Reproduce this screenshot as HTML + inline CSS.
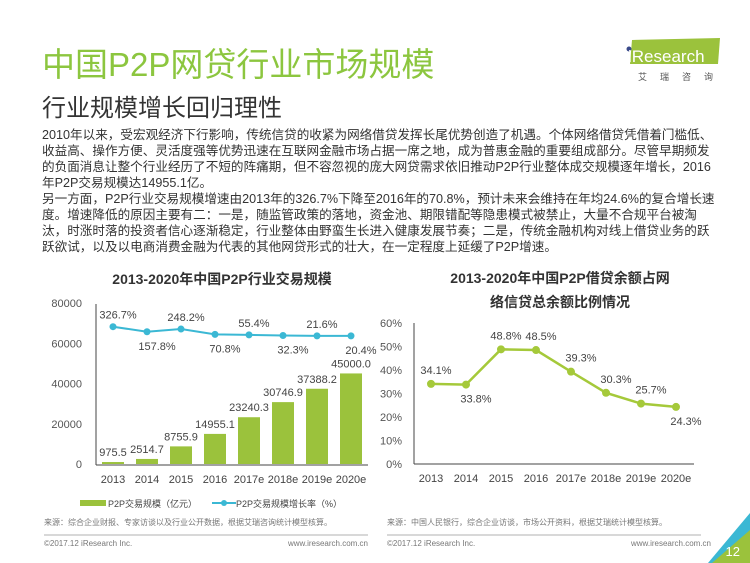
<!DOCTYPE html>
<html><head><meta charset="utf-8">
<style>
body{margin:0;width:750px;height:563px;background:#fff;overflow:hidden;position:relative;font-family:"Liberation Sans","Noto Sans CJK SC",sans-serif;}
.abs{position:absolute;}
#title{left:42px;top:38px;font-size:33px;color:#8cc63f;white-space:nowrap;}
#sub{left:42px;top:88px;font-size:24px;color:#333;white-space:nowrap;}
#para{left:42px;top:127px;width:676px;font-size:12.6px;line-height:16px;color:#333;}
svg text{font-family:"Liberation Sans","Noto Sans CJK SC",sans-serif;}
</style></head><body>
<div class="abs" id="title">中国P2P网贷行业市场规模</div>
<div class="abs" id="sub">行业规模增长回归理性</div>
<div class="abs" style="left:618px;top:34px;width:112px;height:50px;">
<svg width="112" height="50"><polygon points="14,6 102,4 100,30 12,30" fill="#9bc23c"/><circle cx="11" cy="15" r="2.5" fill="#3a4a8a"/><text x="10" y="28" font-size="17" fill="#fff">iResearch</text><text x="20" y="46" font-size="9" fill="#555" letter-spacing="13">艾瑞咨询</text></svg></div>
<div class="abs" id="para">2010年以来，受宏观经济下行影响，传统信贷的收紧为网络借贷发挥长尾优势创造了机遇。个体网络借贷凭借着门槛低、收益高、操作方便、灵活度强等优势迅速在互联网金融市场占据一席之地，成为普惠金融的重要组成部分。尽管早期频发的负面消息让整个行业经历了不短的阵痛期，但不容忽视的庞大网贷需求依旧推动P2P行业整体成交规模逐年增长，2016年P2P交易规模达14955.1亿。<br>另一方面，P2P行业交易规模增速由2013年的326.7%下降至2016年的70.8%，预计未来会维持在年均24.6%的复合增长速度。增速降低的原因主要有二：一是，随监管政策的落地，资金池、期限错配等隐患模式被禁止，大量不合规平台被淘汰，时涨时落的投资者信心逐渐稳定，行业整体由野蛮生长进入健康发展节奏；二是，传统金融机构对线上借贷业务的跃跃欲试，以及以电商消费金融为代表的其他网贷形式的壮大，在一定程度上延缓了P2P增速。</div>
<svg id="charts" class="abs" style="left:0;top:0" width="750" height="563"></svg>
<script>
const years=["2013","2014","2015","2016","2017e","2018e","2019e","2020e"];
const volume=[975.5,2514.7,8755.9,14955.1,23240.3,30746.9,37388.2,45000.0];
const growth=[326.7,157.8,248.2,70.8,55.4,32.3,21.6,20.4];
const share=[34.1,33.8,48.8,48.5,39.3,30.3,25.7,24.3];
const leftTicks=[0,20000,40000,60000,80000];
const rightTicks=[0,10,20,30,40,50,60];
const NS="http://www.w3.org/2000/svg";
const svg=document.getElementById('charts');
function mk(t,a,txt){const e=document.createElementNS(NS,t);for(const k in a)e.setAttribute(k,a[k]);if(txt!==undefined)e.textContent=txt;svg.appendChild(e);return e;}
const lx=i=>113+i*34.0, ly=v=>464-v*(161/80000), gy=r=>336.5-r*0.03;
let e;
e=mk('text',{x:222,y:284,'font-size':14,'font-weight':'bold','text-anchor':'middle',fill:'#333'},'2013-2020年中国P2P行业交易规模');


e=mk('line',{x1:96,y1:304,x2:96,y2:465,stroke:'#444'});


e=mk('line',{x1:96,y1:465,x2:368,y2:465,stroke:'#444'});


leftTicks.forEach(t=>{e=mk('text',{x:82,y:ly(t)+4,'font-size':11,'text-anchor':'end',fill:'#555'},String(t));

});
years.forEach((y,i)=>{
e=mk('text',{x:lx(i),y:483,'font-size':11,'text-anchor':'middle',fill:'#444'},y);


e=mk('rect',{x:lx(i)-11,y:ly(volume[i]),width:22,height:464-ly(volume[i]),fill:'#9bc23c'});


e=mk('text',{x:lx(i),y:ly(volume[i])-6,'font-size':11,'text-anchor':'middle',fill:'#444'},volume[i].toFixed(1));


});
e=mk('polyline',{points:growth.map((g,i)=>lx(i)+','+gy(g)).join(' '),fill:'none',stroke:'#3bb8d4','stroke-width':2});


growth.forEach((g,i)=>{
e=mk('circle',{cx:lx(i),cy:gy(g),r:3.5,fill:'#3bb8d4'});


const up=i%2===0;
e=mk('text',{x:lx(i)+(up?5:10),y:up?gy(g)-8:gy(g)+18,'font-size':11,'text-anchor':'middle',fill:'#444'},g.toFixed(1)+'%');


});
e=mk('rect',{x:80,y:500,width:26,height:6,fill:'#9bc23c'});


e=mk('text',{x:108,y:507,'font-size':9,fill:'#444'},'P2P交易规模（亿元）');


e=mk('line',{x1:212,y1:503,x2:236,y2:503,stroke:'#3bb8d4','stroke-width':2});


mk('circle',{cx:224,cy:503,r:3,fill:'#3bb8d4'});
e=mk('text',{x:236,y:507,'font-size':9,fill:'#444'},'P2P交易规模增长率（%）');


const rx=i=>431+i*35.0, ry=v=>464-v*(141/60);
e=mk('text',{x:560,y:283,'font-size':14,'font-weight':'bold','text-anchor':'middle',fill:'#333'},'2013-2020年中国P2P借贷余额占网');


mk('text',{x:560,y:307,'font-size':14,'font-weight':'bold','text-anchor':'middle',fill:'#333'},'络信贷总余额比例情况');
e=mk('line',{x1:414,y1:323,x2:414,y2:464,stroke:'#444'});


e=mk('line',{x1:414,y1:464,x2:694,y2:464,stroke:'#444'});


rightTicks.forEach(t=>{e=mk('text',{x:402,y:ry(t)+4,'font-size':11,'text-anchor':'end',fill:'#555'},t+'%');

});
years.forEach((y,i)=>{e=mk('text',{x:rx(i),y:482,'font-size':11,'text-anchor':'middle',fill:'#444'},y);

});
e=mk('polyline',{points:share.map((s,i)=>rx(i)+','+ry(s)).join(' '),fill:'none',stroke:'#a5c93a','stroke-width':2.5});


const below=[false,true,false,false,false,false,false,true];
share.forEach((s,i)=>{
e=mk('circle',{cx:rx(i),cy:ry(s),r:4,fill:'#a5c93a'});


e=mk('text',{x:rx(i)+(below[i]?10:i<4?5:10),y:below[i]?ry(s)+18:ry(s)-10,'font-size':11,'text-anchor':'middle',fill:'#444'},s.toFixed(1)+'%');


});
e=mk('text',{x:44,y:525,'font-size':8,fill:'#777'},'来源：综合企业财报、专家访谈以及行业公开数据，根据艾瑞咨询统计模型核算。');


e=mk('text',{x:387,y:525,'font-size':8,fill:'#777'},'来源：中国人民银行，综合企业访谈，市场公开资料，根据艾瑞统计模型核算。');


mk('line',{x1:44,y1:535,x2:368,y2:535,stroke:'#999','stroke-width':0.7});
mk('line',{x1:387,y1:535,x2:701,y2:535,stroke:'#999','stroke-width':0.7});
mk('text',{x:44,y:546,'font-size':8,fill:'#777'},'©2017.12 iResearch Inc.');
mk('text',{x:368,y:546,'font-size':8,fill:'#777','text-anchor':'end'},'www.iresearch.com.cn');
mk('text',{x:387,y:546,'font-size':8,fill:'#777'},'©2017.12 iResearch Inc.');
mk('text',{x:711,y:546,'font-size':8,fill:'#777','text-anchor':'end'},'www.iresearch.com.cn');
mk('polygon',{points:'750,513 750,540 725,563 708,563',fill:'#3bb8d4'});
mk('polygon',{points:'750,530 750,563 712,563',fill:'#9bc23c'});
e=mk('text',{x:740,y:556,'font-size':13,fill:'#fff','text-anchor':'end'},'12');


</script>
</body></html>
